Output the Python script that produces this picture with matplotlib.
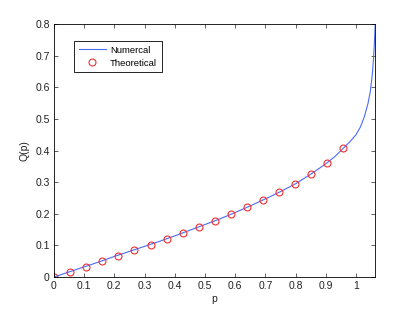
import matplotlib
matplotlib.use("Agg")
from matplotlib import pyplot as plt

plt.rcParams['font.family'] = ['Liberation Sans', 'DejaVu Sans']

# numerical curve
p_num = [0.0, 0.05, 0.1, 0.15, 0.2, 0.25, 0.3, 0.35, 0.4, 0.45, 0.5, 0.55,
         0.6, 0.65, 0.7, 0.75, 0.8, 0.85, 0.9, 0.93, 0.96, 0.98, 1.0, 1.015,
         1.028, 1.04, 1.048, 1.054, 1.058, 1.061, 1.0635]
q_num = [0.0, 0.016, 0.032, 0.048, 0.065, 0.081, 0.097, 0.113, 0.130, 0.148,
         0.166, 0.184, 0.204, 0.225, 0.247, 0.270, 0.295, 0.325, 0.358, 0.381,
         0.409, 0.428, 0.450, 0.475, 0.508, 0.550, 0.590, 0.640, 0.690, 0.740,
         0.80]

# theoretical points
p_th = [0.0, 0.053, 0.106, 0.160, 0.213, 0.266, 0.320, 0.373, 0.426, 0.480,
        0.532, 0.585, 0.638, 0.692, 0.745, 0.798, 0.851, 0.904, 0.958]
q_th = [0.0, 0.016, 0.033, 0.050, 0.067, 0.084, 0.102, 0.120, 0.139, 0.158,
        0.178, 0.198, 0.220, 0.243, 0.268, 0.294, 0.325, 0.361, 0.409]

fig = plt.figure(figsize=(4.15, 3.13), dpi=100)
ax = fig.add_axes([0.130, 0.115, 0.774, 0.808])

ax.plot(p_num, q_num, color='#4a6cf7', lw=0.8, label='Numercal')
ax.plot(p_th, q_th, 'o', mfc='none', mec='#f03030', ms=5, mew=0.8,
        label='Theoretical')

ax.set_xlim(0, 1.0635)
ax.set_ylim(0, 0.8)
ax.set_xticks([0, 0.1, 0.2, 0.3, 0.4, 0.5, 0.6, 0.7, 0.8, 0.9, 1])
ax.set_xticklabels(['0', '0.1', '0.2', '0.3', '0.4', '0.5', '0.6', '0.7', '0.8', '0.9', '1'])
ax.set_yticks([0, 0.1, 0.2, 0.3, 0.4, 0.5, 0.6, 0.7, 0.8])
ax.set_yticklabels(['0', '0.1', '0.2', '0.3', '0.4', '0.5', '0.6', '0.7', '0.8'])
ax.tick_params(direction='in', top=True, right=True, labelsize=7.5,
               length=3, width=0.5, pad=3, colors='#222222')
for s in ax.spines.values():
    s.set_linewidth(0.6)
ax.set_xlabel('p', fontsize=7.5, labelpad=2, color='#222222')
ax.set_ylabel('Q(p)', fontsize=7.5, labelpad=4, color='#222222')

leg = ax.legend(loc='upper left', bbox_to_anchor=(0.062, 0.934), fontsize=6.8,
                fancybox=False, edgecolor='black', framealpha=1,
                borderaxespad=0, borderpad=0.5, handlelength=2.9,
                handletextpad=0.45, labelspacing=0.45)
leg.get_frame().set_linewidth(0.6)

plt.savefig('out.png', dpi=100)
